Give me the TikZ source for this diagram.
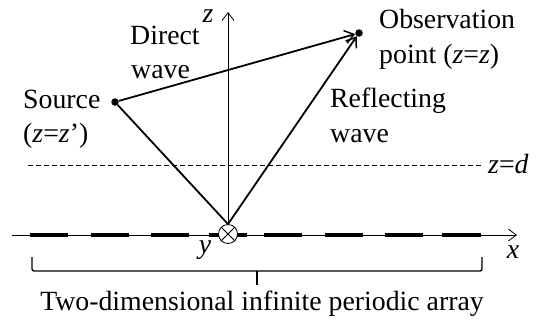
\documentclass[tikz,border=0pt]{standalone}
\usepackage{fontspec}
\setmainfont{Liberation Serif}
\usetikzlibrary{arrows.meta}
\begin{document}
\begin{tikzpicture}[x=1pt,y=-1pt,
  txt/.style={font=\fontsize{27.8}{35}\selectfont, inner sep=0pt},
  wave/.style={line width=1.8pt},
  arr/.style={-{Straight Barb[length=9pt,width=13pt,line width=1.5pt]}},
  axarr/.style={-{Straight Barb[length=8pt,width=12pt,line width=0.8pt]}},
  thinaxis/.style={line width=0.8pt},
  arraydash/.style={line width=4pt},
  dot/.style={circle, fill=black, inner sep=0pt, minimum size=7.5pt},
]
\useasboundingbox (0,0) rectangle (543,322);

% x axis
\coordinate (xs) at (12,235);
\coordinate (xe) at (517,235);
\draw[thinaxis, axarr] (xs) -- (xe);

% array elements
\foreach \a/\b in {30/68, 91/129, 151/189, 209/247, 264/302, 325/363, 385/423, 442/481}
  \draw[arraydash] (\a,235) -- (\b,235);

% reflection point (y axis into page)
\node[circle, draw, fill=white, line width=0.8pt, minimum size=19pt, inner sep=0pt] (refl) at (228,234) {};
\draw[line width=0.8pt] (refl.north west) -- (refl.south east);
\draw[line width=0.8pt] (refl.north east) -- (refl.south west);

% z axis
\coordinate (zt) at (228,12);
\draw[thinaxis, axarr] (refl.north) -- (zt);

% z = d plane
\coordinate (ds) at (28,165);
\coordinate (de) at (481,165);
\draw[line width=0.7pt, dash pattern=on 5pt off 3pt] (ds) -- (de);

% source and observation points
\node[dot] (src) at (115,102) {};
\node[dot] (obs) at (359,33) {};

% waves
\draw[wave, arr] (src) -- (obs);
\draw[wave] (src) -- (refl.north);
\draw[wave, arr] (refl.north) -- (obs);

% brace
\coordinate (bl) at (32,257);
\coordinate (br) at (482,257);
\coordinate (bt) at (257,285);
\draw[line width=1.3pt, rounded corners=2pt] (bl) -- (32,271) -- (482,271) -- (br);
\draw[line width=1.6pt] (257,271) -- (bt);

% labels
\node[txt, anchor=base] (zlab) at (208,22) {\textit{z}};
\node[txt, anchor=base] (xlab) at (513,258) {\textit{x}};
\node[txt, anchor=base] (ylab) at (205,253) {\textit{y}};
\node[txt, anchor=base west] (dir1) at (130,44) {Direct};
\node[txt, anchor=base west] (dir2) at (131,78) {wave};
\node[txt, anchor=base west] (src1) at (23,108) {Source};
\node[txt, anchor=base west] (src2) at (23,142) {(\textit{z}=\textit{z}’)};
\node[txt, anchor=base west] (obs1) at (379,28) {Observation};
\node[txt, anchor=base west] (obs2) at (379,63) {point (\textit{z}=\textit{z})};
\node[txt, anchor=base west] (ref1) at (330,107) {Reflecting};
\node[txt, anchor=base west] (ref2) at (330,142) {wave};
\node[txt, anchor=base west] (dlab) at (488,173) {\textit{z}=\textit{d}};
\node[txt, anchor=base] (arr) at (262,310) {Two-dimensional infinite periodic array};
\end{tikzpicture}
\end{document}
